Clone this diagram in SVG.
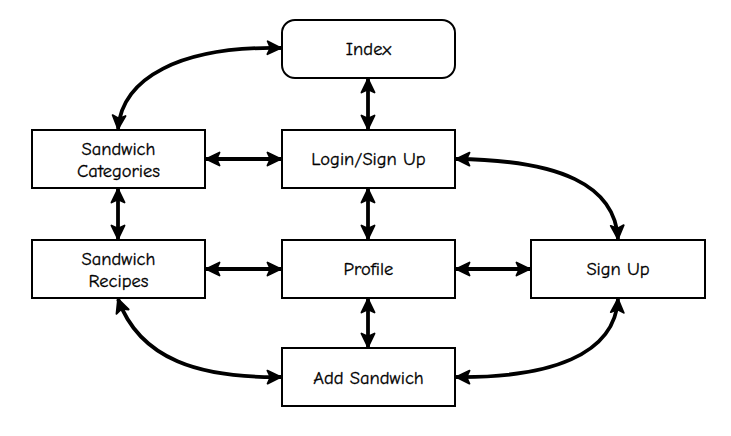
<svg xmlns="http://www.w3.org/2000/svg" width="731" height="436" viewBox="0 0 731 436">
<defs>
<style>
.box{fill:#fff;stroke:#000;stroke-width:2}
.lbl{font-family:"Comic Neue","Liberation Sans",sans-serif;font-size:18.5px;fill:#000;text-anchor:middle;stroke:#000;stroke-width:0.3}
.c{fill:none;stroke:#000;stroke-width:3.8;marker-start:url(#ah);marker-end:url(#ah)}
</style>
<marker id="ah" viewBox="0 0 16 16" refX="15" refY="8" markerWidth="16" markerHeight="16" markerUnits="userSpaceOnUse" orient="auto-start-reverse">
<path d="M1.5,1.5 L15,8 L1.5,14.5 L4.5,8 Z" fill="#000" stroke="#000" stroke-width="1.8" stroke-linejoin="round"/>
</marker>
</defs>
<rect width="731" height="436" fill="#fff"/>
<g id="connectors">
<path class="c" d="M281,48 C180,46 122,78 118,129"/>
<path class="c" d="M368,79 L368,129"/>
<path class="c" d="M206,159 L281,159"/>
<path class="c" d="M118,189 L118,239"/>
<path class="c" d="M368,189 L368,239"/>
<path class="c" d="M206,269 L281,269"/>
<path class="c" d="M456,269 L530,269"/>
<path class="c" d="M456,159 C560,160 615,185 618,239"/>
<path class="c" d="M368,299 L368,347"/>
<path class="c" d="M118,299 C140,360 200,378 281,377"/>
<path class="c" d="M618,299 C615,355 550,378 456,377"/>
</g>
<g id="index"><rect class="box" x="282" y="20" width="173" height="58" rx="13"/><text class="lbl" x="368.5" y="55">Index</text></g>
<g id="login"><rect class="box" x="282" y="130" width="173" height="58"/><text class="lbl" x="368.5" y="165">Login/Sign Up</text></g>
<g id="categories"><rect class="box" x="32" y="130" width="173" height="58"/><text class="lbl" x="118.5" y="155">Sandwich</text><text class="lbl" x="118.5" y="177">Categories</text></g>
<g id="recipes"><rect class="box" x="32" y="240" width="173" height="58"/><text class="lbl" x="118.5" y="265">Sandwich</text><text class="lbl" x="118.5" y="287">Recipes</text></g>
<g id="profile"><rect class="box" x="282" y="240" width="173" height="58"/><text class="lbl" x="368.5" y="275">Profile</text></g>
<g id="signup"><rect class="box" x="531" y="240" width="174" height="58"/><text class="lbl" x="618" y="275">Sign Up</text></g>
<g id="addsandwich"><rect class="box" x="282" y="348" width="173" height="58"/><text class="lbl" x="368.5" y="384">Add Sandwich</text></g>
</svg>
